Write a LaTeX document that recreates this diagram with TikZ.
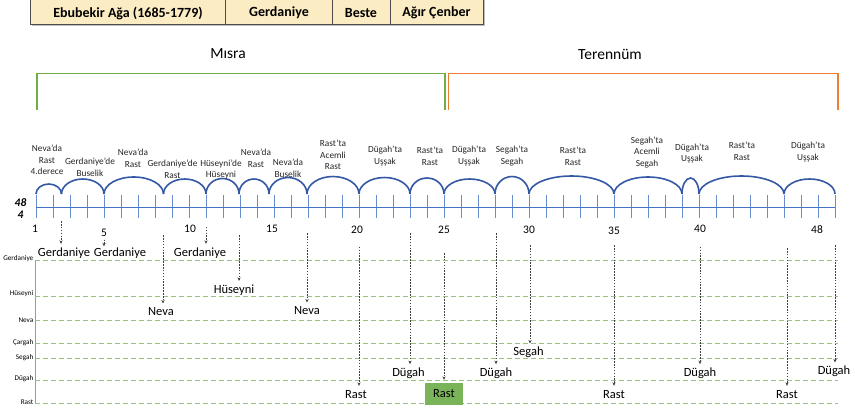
\documentclass[tikz,border=0pt]{standalone}
\usepackage{fontspec}
\setmainfont{Carlito}
\usetikzlibrary{arrows.meta}
\definecolor{titlefill}{RGB}{252,236,196}
\definecolor{mgreen}{RGB}{112,173,71}
\definecolor{boxgreen}{RGB}{122,180,88}
\definecolor{morange}{RGB}{237,125,49}
\definecolor{axblue}{RGB}{68,114,196}
\definecolor{arcblue}{RGB}{52,88,164}
\definecolor{gridgreen}{RGB}{150,195,125}
\definecolor{vaxis}{RGB}{140,155,190}
\begin{document}
\begin{tikzpicture}[x=1pt,y=-1pt,
  toplab/.style={font=\fontsize{9.3}{11.6}\selectfont, align=center, inner sep=0pt, text=black!85},
  beatnum/.style={font=\fontsize{11.5}{12}\selectfont, inner sep=0pt},
  notelab/.style={font=\fontsize{12.5}{14}\selectfont, inner sep=0.5pt, text height=8.5pt, text depth=2.5pt},
  ylab/.style={font=\fontsize{7.2}{8}\selectfont, anchor=east, inner sep=0.5pt},
  pointer/.style={draw=black!75, line width=0.6pt, dash pattern=on 1.6pt off 1.3pt, -{Stealth[length=3.5pt,width=3.2pt]}, shorten >=3pt},
  gridline/.style={draw=gridgreen, line width=0.7pt, dash pattern=on 5pt off 3pt},
  arcline/.style={draw=arcblue, line width=1.6pt},
  tickline/.style={draw=axblue!80, line width=0.6pt},
  titletxt/.style={font=\bfseries\fontsize{14}{16}\selectfont, inner sep=0pt},
  headtxt/.style={font=\fontsize{15.5}{17}\selectfont, inner sep=0pt},
  timesig/.style={font=\bfseries\itshape\fontsize{11.5}{12}\selectfont, inner sep=0pt},
]
\useasboundingbox (0,0) rectangle (855,410);

% ---------- title bar ----------
\fill[titlefill] (30,-1) rectangle (483,24);
\draw[black!25, line width=1.2pt] (31.5,25.3) -- (484.3,25.3) -- (484.3,-1);
\draw[black!70, line width=0.8pt] (30,-1) -- (30,24) -- (483,24) -- (483,-1);
\foreach \dx in {225.3,332.3,390} \draw[black!70, line width=0.8pt] (\dx,-1) -- (\dx,24);
\node[titletxt] (tcomp) at (128,13) {Ebubekir Ağa (1685-1779)};
\node[titletxt] (tmak) at (279,13) {Gerdaniye};
\node[titletxt] (tform) at (361,13) {Beste};
\node[titletxt] (tusul) at (436.5,13) {Ağır Çenber};

% ---------- section brackets ----------
\node[headtxt] (misra) at (228,54) {Mısra};
\node[headtxt] (teren) at (610,54) {Terennüm};
\draw[mgreen, line width=1.3pt] (37,110) -- (37,73.5) -- (445,73.5) -- (445,110);
\draw[morange, line width=1.3pt] (448.5,110) -- (448.5,73.5) -- (838,73.5) -- (838,110);

% ---------- arcs ----------
\foreach \a/\b/\h in {36/61.5/10, 61.5/104/15, 104/163.5/17, 163.5/206/15, 206/239/15.5,
  239/269/15, 269/307/16.5, 307/359/17.5, 359/410/16.5, 410/444/16, 444/495/15,
  495/529/17.5, 529/614/18, 614/682/17, 682/699/16, 699/784/18, 784/835/15}{
  \pgfmathsetmacro\m{(\a+\b)/2}
  \pgfmathsetmacro\r{(\b-\a)/2}
  \draw[arcline] (\a,194) .. controls (\a,{194-0.552*\h}) and ({\m-0.552*\r},{194-\h}) .. (\m,{194-\h})
     .. controls ({\m+0.552*\r},{194-\h}) and (\b,{194-0.552*\h}) .. (\b,194);
}

% ---------- timeline ----------
\foreach \n in {1,...,48} \draw[tickline] ({36+17*(\n-1)},195) -- ++(0,23);
\draw[axblue, line width=0.9pt] (36,207) -- (835,207);
\node[timesig] (ts1) at (20.5,202.5) {48};
\node[timesig] (ts2) at (20.5,215) {4};

\node[beatnum] (b1) at (35,229) {1};
\node[beatnum] (b5) at (104,232.5) {5};
\node[beatnum] (b10) at (190,229) {10};
\node[beatnum] (b15) at (272,229) {15};
\node[beatnum] (b20) at (357,230) {20};
\node[beatnum] (b25) at (444,230) {25};
\node[beatnum] (b30) at (529,230) {30};
\node[beatnum] (b35) at (614,230.5) {35};
\node[beatnum] (b40) at (700,229) {40};
\node[beatnum] (b48) at (817,230) {48};

% ---------- arc labels ----------
\node[toplab] (l1) at (47,160) {Neva’da\\Rast\\4.derece};
\node[toplab] (l2) at (90,167.2) {Gerdaniye’de\\Buselik};
\node[toplab] (l3) at (133,158.5) {Neva’da\\Rast};
\node[toplab] (l4) at (172.5,169.5) {Gerdaniye’de\\Rast};
\node[toplab] (l5) at (221,169.5) {Hüseyni’de\\Hüseyni};
\node[toplab] (l6) at (256,158) {Neva’da\\Rast};
\node[toplab] (l7) at (288,168.5) {Neva’da\\Buselik};
\node[toplab] (l8) at (333,155) {Rast’ta\\Acemli\\Rast};
\node[toplab] (l9) at (385,156) {Dügah’ta\\Uşşak};
\node[toplab] (l10) at (430,156) {Rast’ta\\Rast};
\node[toplab] (l11) at (469,156) {Dügah’ta\\Uşşak};
\node[toplab] (l12) at (512,156) {Segah’ta\\Segah};
\node[toplab] (l13) at (573,156) {Rast’ta\\Rast};
\node[toplab] (l14) at (647,152.5) {Segah’ta\\Acemli\\Segah};
\node[toplab] (l15) at (692,153.3) {Dügah’ta\\Uşşak};
\node[toplab] (l16) at (742,151) {Rast’ta\\Rast};
\node[toplab] (l17) at (808,152) {Dügah’ta\\Uşşak};

% ---------- pitch grid ----------
\draw[vaxis, line width=0.8pt] (35,260.7) -- (35,403);
\foreach \yy/\nm in {260.7/Gerdaniye, 296.7/Hüseyni, 320.7/Neva, 343.3/Çargah, 358.3/Segah, 380/Dügah, 403/Rast}{
  \draw[gridline] (35,\yy) -- (838,\yy);
}
\node[ylab] (yg) at (34,258.3) {Gerdaniye};
\node[ylab] (yh) at (34,293.5) {Hüseyni};
\node[ylab] (yn) at (34,320) {Neva};
\node[ylab] (yc) at (34,342.8) {Çargah};
\node[ylab] (ys) at (34,357.8) {Segah};
\node[ylab] (yd) at (34,378.3) {Dügah};
\node[ylab] (yr) at (34,402) {Rast};

% ---------- target notes ----------
\node[notelab] (n1) at (64,253) {Gerdaniye};
\node[notelab] (n2) at (120,253) {Gerdaniye};
\node[notelab] (n3) at (200,253) {Gerdaniye};
\node[notelab] (n4) at (161,312.7) {Neva};
\node[notelab] (n5) at (234,290) {Hüseyni};
\node[notelab] (n6) at (307,311.7) {Neva};
\node[notelab] (n7) at (356,395) {Rast};
\node[notelab] (n8) at (408.5,373.3) {Dügah};
\node[notelab, fill=boxgreen, minimum width=38pt, minimum height=22pt] (n9) at (444,394) {Rast};
\node[notelab] (n10) at (496,373.3) {Dügah};
\node[notelab] (n11) at (528.5,352.7) {Segah};
\node[notelab] (n12) at (614,395) {Rast};
\node[notelab] (n13) at (700,373.3) {Dügah};
\node[notelab] (n14) at (787,395) {Rast};
\node[notelab] (n15) at (834,371.7) {Dügah};

% ---------- pointers ----------
\coordinate (s1) at (61,221);
\coordinate (s2) at (104,239.5);
\coordinate (s3) at (206,226.7);
\coordinate (s4) at (163,235);
\coordinate (s5) at (239,235);
\coordinate (s6) at (307,233);
\coordinate (s7) at (359,246.7);
\coordinate (s8) at (410,233);
\coordinate (s9) at (444,253);
\coordinate (s10) at (496,233);
\coordinate (s11) at (530,245);
\coordinate (s12) at (614,245);
\coordinate (s13) at (700,246.7);
\coordinate (s14) at (787,248);
\coordinate (s15) at (835,245);
\draw[pointer] (s1) -- (s1 |- n1.north);
\draw[pointer, shorten >=0.5pt] (s2) -- (s2 |- n2.north);
\draw[pointer] (s3) -- (s3 |- n3.north);
\draw[pointer] (s4) -- (s4 |- n4.north);
\draw[pointer] (s5) -- (s5 |- n5.north);
\draw[pointer] (s6) -- (s6 |- n6.north);
\draw[pointer] (s7) -- (s7 |- n7.north);
\draw[pointer] (s8) -- (s8 |- n8.north);
\draw[pointer] (s9) -- (s9 |- n9.north);
\draw[pointer] (s10) -- (s10 |- n10.north);
\draw[pointer] (s11) -- (s11 |- n11.north);
\draw[pointer] (s12) -- (s12 |- n12.north);
\draw[pointer] (s13) -- (s13 |- n13.north);
\draw[pointer] (s14) -- (s14 |- n14.north);
\draw[pointer] (s15) -- (s15 |- n15.north);
\end{tikzpicture}
\end{document}
